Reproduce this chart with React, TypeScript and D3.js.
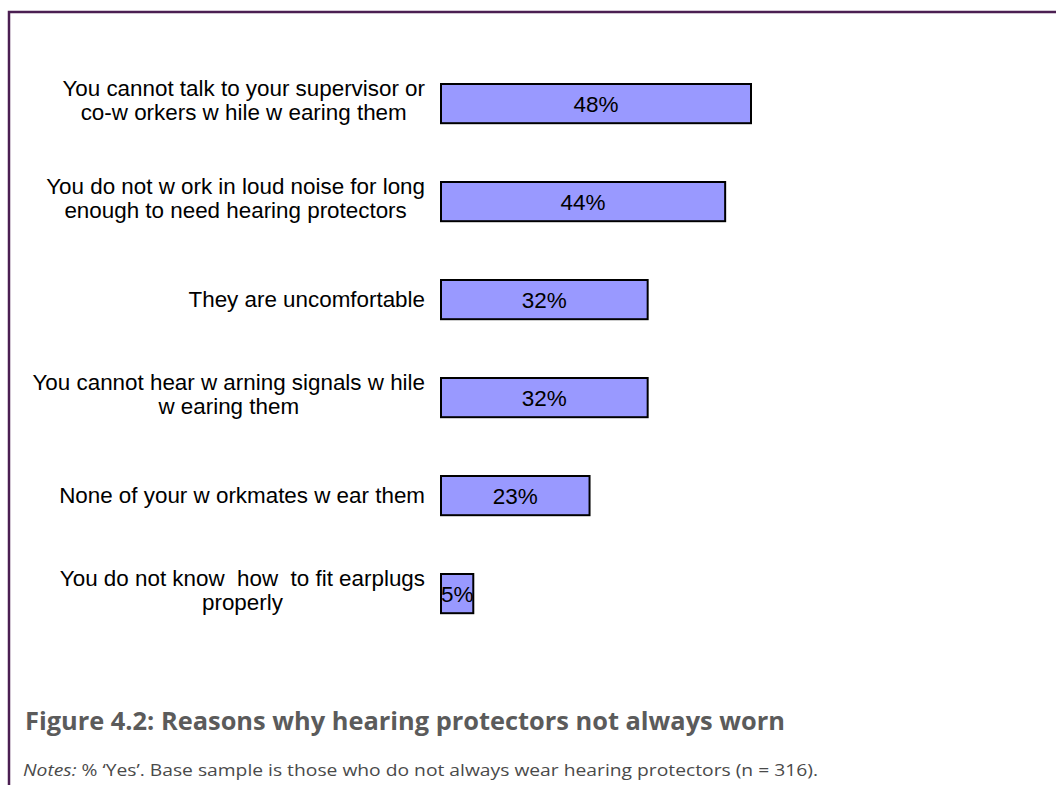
import React, { useRef, useEffect } from "react";
import * as d3 from "d3";

const categories: string[][] = [
	["You cannot talk to your supervisor or", "co-w orkers w hile w earing them"],
	["You do not w ork in loud noise for long", "enough to need hearing protectors"],
	["They are uncomfortable"],
	["You cannot hear w arning signals w hile", "w earing them"],
	["None of your w orkmates w ear them"],
	["You do not know  how  to fit earplugs", "properly"],
];
const values = [48, 44, 32, 32, 23, 5];

const title = "Figure 4.2: Reasons why hearing protectors not always worn";
const notesLead = "Notes:";
const notesText = " % \u2018Yes\u2019. Base sample is those who do not always wear hearing protectors (n = 316).";

const W = 1056;
const H = 785;

const App = () => {
	const svgRef = useRef<SVGSVGElement | null>(null);

	useEffect(() => {
		if (!svgRef.current) return;
		const svg = d3.select(svgRef.current);
		svg.selectAll("*").remove();

		// frame (top + left rule)
		svg.append("path")
			.attr("d", `M9,${H} L9,12 L${W},12`)
			.attr("fill", "none")
			.attr("stroke", "#4b1f52")
			.attr("stroke-width", 2.5);

		const x = d3.scaleLinear().domain([0, 48]).range([441, 751]);
		const y = d3
			.scaleBand<number>()
			.domain(d3.range(values.length))
			.range([54.6, 642.6])
			.paddingInner(0.6)
			.paddingOuter(0.3);

		const rows = svg
			.append("g")
			.selectAll("g")
			.data(values)
			.join("g");

		rows.append("rect")
			.attr("x", x(0))
			.attr("y", (_, i) => y(i)!)
			.attr("width", (d) => x(d) - x(0))
			.attr("height", y.bandwidth())
			.attr("fill", "#9999ff")
			.attr("stroke", "#000")
			.attr("stroke-width", 2);

		rows.append("text")
			.attr("x", (d) => (x(0) + x(d)) / 2)
			.attr("y", (_, i) => y(i)! + y.bandwidth() / 2 + 8)
			.attr("text-anchor", "middle")
			.style("font-family", "'Liberation Sans', Arial, sans-serif")
			.style("font-size", "22.5px")
			.attr("fill", "#000")
			.text((d) => `${d}%`);

		rows.each(function (_, i) {
			const lines = categories[i];
			const cy = y(i)! + y.bandwidth() / 2;
			const offsets = lines.length === 1 ? [7] : [-8, 16];
			const t = d3
				.select(this)
				.append("text")
				.attr("text-anchor", "end")
				.style("font-family", "'Liberation Sans', Arial, sans-serif")
				.style("font-size", "22.4px")
				.style("white-space", "pre")
				.attr("fill", "#000");
			lines.forEach((ln, k) => {
				t.append("tspan")
					.attr("x", 425)
					.attr("y", cy + offsets[k])
					.text(ln);
			});
		});

		// second lines are centred under the first line
		rows.each(function (_, i) {
			const lines = categories[i];
			if (lines.length < 2) return;
			const spans = d3.select(this).selectAll<SVGTSpanElement, unknown>("tspan").nodes();
			const w1 = spans[0].getComputedTextLength();
			const w2 = spans[1].getComputedTextLength();
			d3.select(spans[1]).attr("x", 425 - w1 / 2 + w2 / 2);
		});

		svg.append("text")
			.attr("x", 25)
			.attr("y", 730)
			.attr("textLength", 760)
			.attr("lengthAdjust", "spacingAndGlyphs")
			.style("font-family", "'Open Sans', sans-serif")
			.style("font-weight", "bold")
			.style("font-size", "25.5px")
			.attr("fill", "#5b5b5b")
			.text(title);

		const notes = svg
			.append("text")
			.attr("x", 23)
			.attr("y", 776)
			.attr("textLength", 795)
			.attr("lengthAdjust", "spacingAndGlyphs")
			.style("font-family", "'Open Sans', sans-serif")
			.style("font-size", "17px")
			.attr("fill", "#4a4a4a");
		notes.append("tspan").style("font-style", "italic").text(notesLead);
		notes.append("tspan").style("white-space", "pre").text(notesText);
	}, []);

	return (
		<div style={{ position: "absolute", left: 0, top: 0 }}>
			<svg ref={svgRef} width={W} height={H} style={{ display: "block", background: "#fff" }}></svg>
		</div>
	);
};

export default App;
